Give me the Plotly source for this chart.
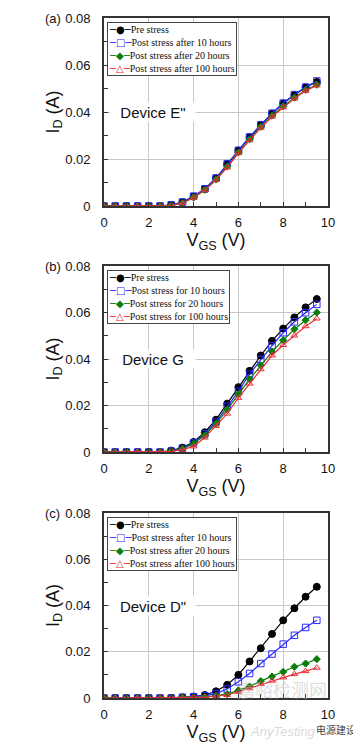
import plotly.graph_objects as go
from plotly.subplots import make_subplots

vgs = [0, 0.5, 1, 1.5, 2, 2.5, 3, 3.5, 4, 4.5, 5, 5.5, 6, 6.5, 7, 7.5, 8, 8.5, 9, 9.5]

# Panel (a) Device E"
pre_a = [0, 0, 0, 0, 0, 0, 0.0004, 0.0016, 0.0040, 0.0072, 0.0118, 0.0178, 0.0236, 0.0292, 0.0345, 0.0393, 0.0436, 0.0472, 0.0505, 0.0528]
h10_a = [0, 0, 0, 0, 0, 0, 0.0005, 0.0017, 0.0042, 0.0073, 0.0119, 0.0180, 0.0237, 0.0294, 0.0346, 0.0395, 0.0438, 0.0474, 0.0506, 0.0532]
h20_a = [0, 0, 0, 0, 0, 0, 0.0003, 0.0013, 0.0037, 0.0069, 0.0113, 0.0168, 0.0228, 0.0284, 0.0337, 0.0384, 0.0424, 0.0461, 0.0494, 0.0516]
h100_a = [0, 0, 0, 0, 0, 0, 0.0002, 0.0012, 0.0035, 0.0067, 0.0110, 0.0164, 0.0225, 0.0280, 0.0333, 0.0380, 0.0420, 0.0457, 0.0490, 0.0513]

# Panel (b) Device G
pre_b = [0, 0, 0, 0, 0, 0, 0.0006, 0.0019, 0.0043, 0.0085, 0.0139, 0.0208, 0.0279, 0.0349, 0.0415, 0.0478, 0.0531, 0.0579, 0.0622, 0.0658]
h10_b = [0, 0, 0, 0, 0, 0, 0.0004, 0.0016, 0.0039, 0.0078, 0.0129, 0.0197, 0.0261, 0.0335, 0.0398, 0.0457, 0.0513, 0.0560, 0.0599, 0.0635]
h20_b = [0, 0, 0, 0, 0, 0, 0.0004, 0.0013, 0.0036, 0.0072, 0.0122, 0.0182, 0.0248, 0.0313, 0.0372, 0.0432, 0.0481, 0.0528, 0.0567, 0.0600]
h100_b = [0, 0, 0, 0, 0, 0, 0.0003, 0.0010, 0.0024, 0.0062, 0.0112, 0.0165, 0.0233, 0.0294, 0.0356, 0.0415, 0.0460, 0.0501, 0.0541, 0.0574]

# Panel (c) Device D"
pre_c = [0, 0, 0, 0, 0, 0, 0, 0.0003, 0.0006, 0.0013, 0.0029, 0.0057, 0.0100, 0.0158, 0.0215, 0.0277, 0.0336, 0.0388, 0.0438, 0.0481]
h10_c = [0, 0, 0, 0, 0, 0, 0, 0.0003, 0.0006, 0.0010, 0.0019, 0.0039, 0.0070, 0.0106, 0.0149, 0.0190, 0.0233, 0.0271, 0.0305, 0.0336]
h20_c = [0, 0, 0, 0, 0, 0, 0, 0.0002, 0.0003, 0.0004, 0.0009, 0.0017, 0.0033, 0.0050, 0.0073, 0.0093, 0.0113, 0.0135, 0.0149, 0.0168]
h100_c = [0, 0, 0, 0, 0, 0, 0, 0.0002, 0.0003, 0.0004, 0.0007, 0.0013, 0.0027, 0.0042, 0.0060, 0.0075, 0.0089, 0.0103, 0.0116, 0.0131]

names_after = ["Pre stress", "Post stress after 10 hours", "Post stress after 20 hours", "Post stress after 100 hours"]
names_for = ["Pre stress", "Post stress for 10 hours", "Post stress for 20 hours", "Post stress for 100 hours"]
panel_labels = ["(a)", "(b)", "(c)"]
device_labels = ['Device E"', "Device G", 'Device D"']

panels = [
    ([pre_a, h10_a, h20_a, h100_a], names_after),
    ([pre_b, h10_b, h20_b, h100_b], names_for),
    ([pre_c, h10_c, h20_c, h100_c], names_after),
]

styles = [
    dict(color="#000000", symbol="circle", size=7, glyph="●"),
    dict(color="#2a2aff", symbol="square-open", size=6.5, glyph="□"),
    dict(color="#0a7d0a", symbol="diamond", size=5.5, glyph="◆"),
    dict(color="#e8303a", symbol="triangle-up-open", size=6, glyph="△"),
]

# the page body adds an 8px margin, so the figure is drawn 8px smaller and
# all target window positions are shifted by that offset
OFF = 8
W, H = 361 - OFF, 746 - OFF
ML, MT = 104 - OFF, 18 - OFF
MR = W - (328 - OFF)
MB = H - (698 - OFF)
PH = H - MT - MB
PW = W - ML - MR


def py(ypix):
    return (H - MB - (ypix - OFF)) / PH


def px(xpix):
    return ((xpix - OFF) - ML) / PW


domains = [(py(206), py(18)), (py(452), py(266)), (py(698), py(513))]

fig = make_subplots(rows=3, cols=1)

for i, (series, names) in enumerate(panels):
    for s, nm, st in zip(series, names, styles):
        fig.add_trace(go.Scatter(
            x=vgs, y=s, name=nm, mode="lines+markers", showlegend=False,
            line=dict(color=st["color"], width=1.2),
            marker=dict(color=st["color"], symbol=st["symbol"], size=st["size"],
                        line=dict(color=st["color"], width=1)),
        ), row=i + 1, col=1)

sans = "Arial, Liberation Sans, sans-serif"
serif = "Times New Roman, Liberation Serif, serif"
tick_font = dict(family=sans, size=13, color="#111")
title_font = dict(family=sans, size=18, color="#111")

layout = dict(
    width=W, height=H,
    margin=dict(l=ML, r=MR, t=MT, b=MB, autoexpand=False),
    paper_bgcolor="white", plot_bgcolor="white",
    showlegend=False,
)

annotations = []
for i in range(3):
    xa = "xaxis" if i == 0 else f"xaxis{i+1}"
    ya = "yaxis" if i == 0 else f"yaxis{i+1}"
    layout[xa] = dict(
        domain=[0, 1], range=[0, 10], dtick=2, tick0=0, automargin=False,
        showgrid=True, gridcolor="#c8c8c8", gridwidth=1,
        zeroline=False, showline=True, linecolor="#333", linewidth=1.6, mirror=True,
        ticks="inside", ticklen=4, tickcolor="#333",
        minor=dict(dtick=1, ticks="inside", ticklen=4, tickcolor="#333", showgrid=False),
        tickfont=tick_font, ticklabelstandoff=4,
        title=dict(text="V<sub>GS</sub> (V)", font=title_font, standoff=2),
        fixedrange=True,
    )
    layout[ya] = dict(
        domain=list(domains[i]), range=[0, 0.08], dtick=0.02, tick0=0, automargin=False,
        showgrid=True, gridcolor="#c8c8c8", gridwidth=1,
        zeroline=False, showline=True, linecolor="#333", linewidth=1.6, mirror=True,
        ticks="inside", ticklen=4, tickcolor="#333",
        minor=dict(dtick=0.01, ticks="inside", ticklen=4, tickcolor="#333", showgrid=False),
        tickfont=tick_font, ticklabelstandoff=9,
        title=dict(text="I<sub>D</sub> (A)", font=title_font, standoff=0),
        fixedrange=True,
    )

    # legend box for this panel (line + marker sample, then the series name)
    names = panels[i][1]
    lines = []
    for nm, st in zip(names, styles):
        lines.append(
            f'<span style="color:{st["color"]};font-family:DejaVu Sans">─{st["glyph"]}─</span>{nm}'
        )
    annotations.append(dict(
        xref="paper", yref="paper", x=px(107), y=domains[i][1] - 4 / PH,
        xanchor="left", yanchor="top", align="left",
        text="<br>".join(lines), showarrow=False,
        bgcolor="white", bordercolor="#444", borderwidth=1, borderpad=1,
        font=dict(family=serif, size=10, color="#111"),
    ))

    annotations.append(dict(
        xref="paper", yref="paper", x=px(43), y=domains[i][1], xanchor="left", yanchor="middle",
        text=panel_labels[i], showarrow=False,
        font=dict(family=sans, size=13, color="#111"),
    ))
    xr = "x" if i == 0 else f"x{i+1}"
    yr = "y" if i == 0 else f"y{i+1}"
    annotations.append(dict(
        xref=xr, yref=yr, x=2.2, y=0.04, xanchor="center", yanchor="middle",
        text=device_labels[i], showarrow=False, bgcolor="white", width=82, height=16,
        font=dict(family=sans, size=15, color="#111"),
    ))

# watermark seen on the source image
annotations.append(dict(
    xref="paper", yref="paper", x=px(282), y=py(689), xanchor="center", yanchor="middle",
    text="嘉峪检测网", showarrow=False,
    font=dict(family="Noto Sans CJK SC", size=18, color="rgba(190,190,190,0.5)"),
))
annotations.append(dict(
    xref="paper", yref="paper", x=px(283), y=py(731), xanchor="center", yanchor="middle",
    text="<i>AnyTesting</i>", showarrow=False,
    font=dict(family=sans, size=13, color="rgba(190,190,190,0.6)"),
))
annotations.append(dict(
    xref="paper", yref="paper", x=px(336), y=py(729), xanchor="center", yanchor="middle",
    text="电源建设", showarrow=False,
    font=dict(family="Noto Sans CJK SC", size=10, color="#444"),
))

layout["annotations"] = annotations
fig.update_layout(**layout)

fig.write_html("out.html")
